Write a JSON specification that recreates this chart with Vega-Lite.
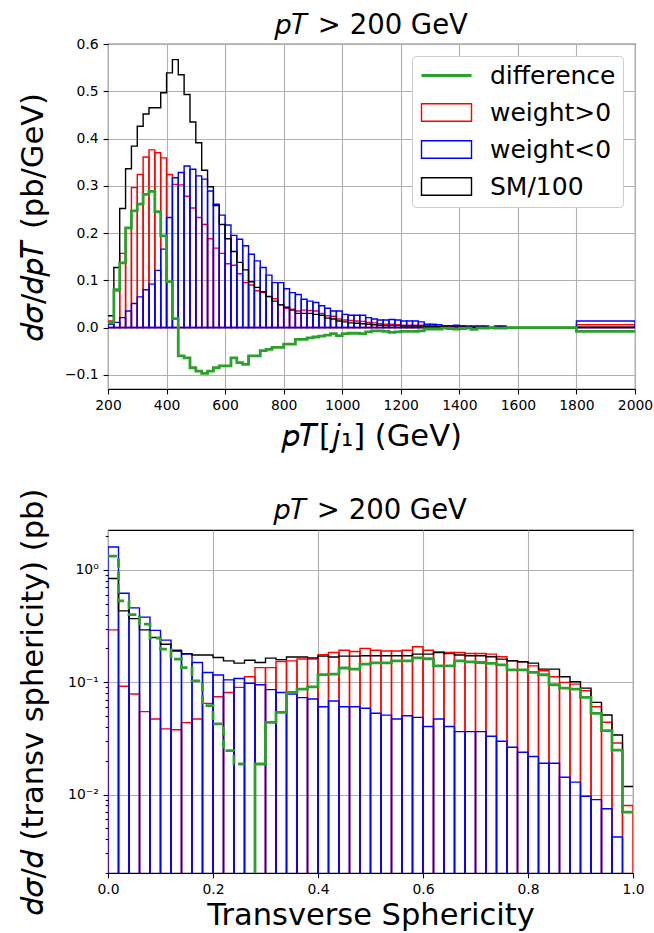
{
  "$schema": "https://vega.github.io/schema/vega-lite/v6.json",
  "padding": {"left": 17, "top": 10, "right": 5, "bottom": 2},
  "spacing": 141,
  "bounds": "flush",
  "resolve": {"scale": {"color": "independent"}, "legend": {"color": "independent"}},
  "config": {
    "font": "DejaVu Sans",
    "view": {"stroke": "black", "strokeWidth": 1.1},
    "axis": {
      "domain": false, "grid": true, "gridColor": "#b0b0b0", "gridWidth": 1.1,
      "tickColor": "black", "tickSize": 4.9, "tickWidth": 1.1, "labelPadding": 4.9,
      "labelFontSize": 13.9, "labelColor": "black", "labelFont": "DejaVu Sans",
      "titleFont": "DejaVu Sans", "titleFontSize": 30.5, "titleFontWeight": "normal", "titleColor": "black",
      "labelFlush": false, "labelOverlap": false
    },
    "title": {"font": "DejaVu Sans", "fontSize": 27.5, "fontWeight": "normal", "color": "black", "offset": -2}
  },
  "datasets": {
    "topBars": [
      {"x0":200,"x1":220,"pos":0.014,"neg":0.007},{"x0":220,"x1":240,"pos":0.078,"neg":0.011},
      {"x0":240,"x1":260,"pos":0.157,"neg":0.021},{"x0":260,"x1":280,"pos":0.211,"neg":0.035},
      {"x0":280,"x1":300,"pos":0.296,"neg":0.051},{"x0":300,"x1":320,"pos":0.324,"neg":0.065},
      {"x0":320,"x1":340,"pos":0.361,"neg":0.080},{"x0":340,"x1":360,"pos":0.376,"neg":0.092},
      {"x0":360,"x1":380,"pos":0.370,"neg":0.121},{"x0":380,"x1":400,"pos":0.359,"neg":0.166},
      {"x0":400,"x1":420,"pos":0.324,"neg":0.233},{"x0":420,"x1":440,"pos":0.303,"neg":0.317},
      {"x0":440,"x1":460,"pos":0.302,"neg":0.328},{"x0":460,"x1":480,"pos":0.278,"neg":0.342},
      {"x0":480,"x1":500,"pos":0.253,"neg":0.335},{"x0":500,"x1":520,"pos":0.233,"neg":0.321},
      {"x0":520,"x1":540,"pos":0.218,"neg":0.314},{"x0":540,"x1":560,"pos":0.188,"neg":0.289},
      {"x0":560,"x1":580,"pos":0.168,"neg":0.261},{"x0":580,"x1":600,"pos":0.157,"neg":0.238},
      {"x0":600,"x1":620,"pos":0.135,"neg":0.217},{"x0":620,"x1":640,"pos":0.132,"neg":0.195},
      {"x0":640,"x1":660,"pos":0.114,"neg":0.187},{"x0":660,"x1":680,"pos":0.095,"neg":0.173},
      {"x0":680,"x1":700,"pos":0.090,"neg":0.155},{"x0":700,"x1":720,"pos":0.078,"neg":0.141},
      {"x0":720,"x1":740,"pos":0.074,"neg":0.127},{"x0":740,"x1":760,"pos":0.065,"neg":0.111},
      {"x0":760,"x1":780,"pos":0.061,"neg":0.095},{"x0":780,"x1":800,"pos":0.048,"neg":0.095},
      {"x0":800,"x1":820,"pos":0.041,"neg":0.082},{"x0":820,"x1":840,"pos":0.039,"neg":0.074},
      {"x0":840,"x1":860,"pos":0.035,"neg":0.070},{"x0":860,"x1":880,"pos":0.037,"neg":0.060},
      {"x0":880,"x1":900,"pos":0.036,"neg":0.056},{"x0":900,"x1":920,"pos":0.035,"neg":0.053},
      {"x0":920,"x1":940,"pos":0.030,"neg":0.046},{"x0":940,"x1":960,"pos":0.025,"neg":0.041},
      {"x0":960,"x1":980,"pos":0.024,"neg":0.035},{"x0":980,"x1":1000,"pos":0.018,"neg":0.035},
      {"x0":1000,"x1":1020,"pos":0.016,"neg":0.028},{"x0":1020,"x1":1040,"pos":0.015,"neg":0.026},
      {"x0":1040,"x1":1060,"pos":0.014,"neg":0.026},{"x0":1060,"x1":1080,"pos":0.013,"neg":0.026},
      {"x0":1080,"x1":1100,"pos":0.011,"neg":0.021},{"x0":1100,"x1":1120,"pos":0.010,"neg":0.018},
      {"x0":1120,"x1":1140,"pos":0.008,"neg":0.016},{"x0":1140,"x1":1160,"pos":0.007,"neg":0.016},
      {"x0":1160,"x1":1180,"pos":0.007,"neg":0.017},{"x0":1180,"x1":1200,"pos":0.006,"neg":0.016},
      {"x0":1200,"x1":1220,"pos":0.005,"neg":0.014},{"x0":1220,"x1":1240,"pos":0.005,"neg":0.014},
      {"x0":1240,"x1":1260,"pos":0.005,"neg":0.014},{"x0":1260,"x1":1280,"pos":0.005,"neg":0.012},
      {"x0":1280,"x1":1300,"pos":0.004,"neg":0.007},{"x0":1300,"x1":1320,"pos":0.004,"neg":0.007},
      {"x0":1320,"x1":1340,"pos":0.003,"neg":0.006},{"x0":1340,"x1":1360,"pos":0.003,"neg":0.004},
      {"x0":1360,"x1":1380,"pos":0.002,"neg":0.004},{"x0":1380,"x1":1400,"pos":0.002,"neg":0.005},
      {"x0":1400,"x1":1420,"pos":0.002,"neg":0.004},{"x0":1420,"x1":1440,"pos":0.002,"neg":0.0035},
      {"x0":1440,"x1":1460,"pos":0.001,"neg":0.0035},{"x0":1460,"x1":1480,"pos":0.002,"neg":0.0035},
      {"x0":1480,"x1":1500,"pos":0.002,"neg":0.0035},{"x0":1520,"x1":1540,"pos":0.002,"neg":0.0035},
      {"x0":1540,"x1":1560,"pos":0.002,"neg":0.0035},{"x0":1800,"x1":2000,"pos":0.006,"neg":0.014}
    ],
    "topSteps": [
      {"x":200,"sm":0.025,"diff":0.010},{"x":220,"sm":0.127,"diff":0.080},{"x":240,"sm":0.252,"diff":0.137},
      {"x":260,"sm":0.336,"diff":0.211},{"x":280,"sm":0.384,"diff":0.247},{"x":300,"sm":0.426,"diff":0.261},
      {"x":320,"sm":0.452,"diff":0.282},{"x":340,"sm":0.465,"diff":0.288},{"x":360,"sm":0.465,"diff":0.245},
      {"x":380,"sm":0.497,"diff":0.194},{"x":400,"sm":0.539,"diff":0.097},{"x":420,"sm":0.567,"diff":0.019},
      {"x":440,"sm":0.535,"diff":-0.060},{"x":460,"sm":0.493,"diff":-0.064},{"x":480,"sm":0.435,"diff":-0.085},
      {"x":500,"sm":0.391,"diff":-0.092},{"x":520,"sm":0.333,"diff":-0.097},{"x":540,"sm":0.298,"diff":-0.092},
      {"x":560,"sm":0.258,"diff":-0.085},{"x":580,"sm":0.218,"diff":-0.081},{"x":600,"sm":0.188,"diff":-0.081},
      {"x":620,"sm":0.161,"diff":-0.064},{"x":640,"sm":0.138,"diff":-0.074},{"x":660,"sm":0.122,"diff":-0.078},
      {"x":680,"sm":0.097,"diff":-0.060},{"x":700,"sm":0.085,"diff":-0.060},{"x":720,"sm":0.076,"diff":-0.049},
      {"x":740,"sm":0.066,"diff":-0.046},{"x":760,"sm":0.056,"diff":-0.042},{"x":780,"sm":0.048,"diff":-0.042},
      {"x":800,"sm":0.043,"diff":-0.035},{"x":820,"sm":0.037,"diff":-0.035},{"x":840,"sm":0.030,"diff":-0.025},
      {"x":860,"sm":0.030,"diff":-0.025},{"x":880,"sm":0.030,"diff":-0.022},{"x":900,"sm":0.028,"diff":-0.020},
      {"x":920,"sm":0.026,"diff":-0.018},{"x":940,"sm":0.020,"diff":-0.016},{"x":960,"sm":0.018,"diff":-0.013},
      {"x":980,"sm":0.014,"diff":-0.017},{"x":1000,"sm":0.012,"diff":-0.013},{"x":1020,"sm":0.010,"diff":-0.012},
      {"x":1040,"sm":0.009,"diff":-0.012},{"x":1060,"sm":0.008,"diff":-0.013},{"x":1080,"sm":0.007,"diff":-0.009},
      {"x":1100,"sm":0.006,"diff":-0.007},{"x":1120,"sm":0.005,"diff":-0.007},{"x":1140,"sm":0.004,"diff":-0.008},
      {"x":1160,"sm":0.004,"diff":-0.010},{"x":1180,"sm":0.004,"diff":-0.009},{"x":1200,"sm":0.003,"diff":-0.008},
      {"x":1220,"sm":0.003,"diff":-0.008},{"x":1240,"sm":0.003,"diff":-0.008},{"x":1260,"sm":0.003,"diff":-0.007},
      {"x":1280,"sm":0.002,"diff":-0.003},{"x":1300,"sm":0.002,"diff":-0.003},{"x":1320,"sm":0.002,"diff":-0.003},
      {"x":1340,"sm":0.002,"diff":-0.001},{"x":1360,"sm":0.001,"diff":-0.002},{"x":1380,"sm":0.001,"diff":-0.003},
      {"x":1400,"sm":0.001,"diff":-0.002},{"x":1420,"sm":0.001,"diff":-0.001},{"x":1440,"sm":0.001,"diff":-0.004},
      {"x":1460,"sm":0.001,"diff":-0.001},{"x":1480,"sm":0.001,"diff":-0.001},{"x":1500,"sm":0.0,"diff":0.0},
      {"x":1520,"sm":0.001,"diff":-0.001},{"x":1540,"sm":0.001,"diff":-0.001},{"x":1560,"sm":0.0,"diff":0.0},
      {"x":1800,"sm":0.001,"diff":-0.008},{"x":2000,"sm":0.001,"diff":-0.008}
    ],
    "botBars": [
      {"x0":0.00,"x1":0.02,"pos":0.293,"neg":1.60},{"x0":0.02,"x1":0.04,"pos":0.092,"neg":0.62},
      {"x0":0.04,"x1":0.06,"pos":0.0785,"neg":0.46},{"x0":0.06,"x1":0.08,"pos":0.0547,"neg":0.38},
      {"x0":0.08,"x1":0.10,"pos":0.047,"neg":0.29},{"x0":0.10,"x1":0.12,"pos":0.0384,"neg":0.237},
      {"x0":0.12,"x1":0.14,"pos":0.0378,"neg":0.193},{"x0":0.14,"x1":0.16,"pos":0.0437,"neg":0.178},
      {"x0":0.16,"x1":0.18,"pos":0.047,"neg":0.150},{"x0":0.18,"x1":0.20,"pos":0.0648,"neg":0.122},
      {"x0":0.20,"x1":0.22,"pos":0.0743,"neg":0.116},{"x0":0.22,"x1":0.24,"pos":0.081,"neg":0.105},
      {"x0":0.24,"x1":0.26,"pos":0.090,"neg":0.108},{"x0":0.26,"x1":0.28,"pos":0.112,"neg":0.098},
      {"x0":0.28,"x1":0.30,"pos":0.135,"neg":0.095},{"x0":0.30,"x1":0.32,"pos":0.135,"neg":0.086},
      {"x0":0.32,"x1":0.34,"pos":0.153,"neg":0.081},{"x0":0.34,"x1":0.36,"pos":0.155,"neg":0.0785},
      {"x0":0.36,"x1":0.38,"pos":0.161,"neg":0.073},{"x0":0.38,"x1":0.40,"pos":0.161,"neg":0.071},
      {"x0":0.40,"x1":0.42,"pos":0.176,"neg":0.0605},{"x0":0.42,"x1":0.44,"pos":0.184,"neg":0.068},
      {"x0":0.44,"x1":0.46,"pos":0.193,"neg":0.0605},{"x0":0.46,"x1":0.48,"pos":0.188,"neg":0.0605},
      {"x0":0.48,"x1":0.50,"pos":0.200,"neg":0.0586},{"x0":0.50,"x1":0.52,"pos":0.193,"neg":0.0529},
      {"x0":0.52,"x1":0.54,"pos":0.190,"neg":0.051},{"x0":0.54,"x1":0.56,"pos":0.190,"neg":0.047},
      {"x0":0.56,"x1":0.58,"pos":0.193,"neg":0.0503},{"x0":0.58,"x1":0.60,"pos":0.207,"neg":0.0487},
      {"x0":0.60,"x1":0.62,"pos":0.193,"neg":0.0403},{"x0":0.62,"x1":0.64,"pos":0.186,"neg":0.047},
      {"x0":0.64,"x1":0.66,"pos":0.184,"neg":0.0403},{"x0":0.66,"x1":0.68,"pos":0.184,"neg":0.0363},
      {"x0":0.68,"x1":0.70,"pos":0.1804,"neg":0.0363},{"x0":0.70,"x1":0.72,"pos":0.1804,"neg":0.0363},
      {"x0":0.72,"x1":0.74,"pos":0.178,"neg":0.033},{"x0":0.74,"x1":0.76,"pos":0.1685,"neg":0.0298},
      {"x0":0.76,"x1":0.78,"pos":0.1553,"neg":0.0264},{"x0":0.78,"x1":0.80,"pos":0.1521,"neg":0.0238},
      {"x0":0.80,"x1":0.82,"pos":0.140,"neg":0.0218},{"x0":0.82,"x1":0.84,"pos":0.1265,"neg":0.019},
      {"x0":0.84,"x1":0.86,"pos":0.1119,"neg":0.019},{"x0":0.86,"x1":0.88,"pos":0.0997,"neg":0.01425},
      {"x0":0.88,"x1":0.90,"pos":0.0963,"neg":0.0129},{"x0":0.90,"x1":0.92,"pos":0.0840,"neg":0.00966},
      {"x0":0.92,"x1":0.94,"pos":0.0605,"neg":0.0090},{"x0":0.94,"x1":0.96,"pos":0.0440,"neg":0.00746},
      {"x0":0.96,"x1":0.98,"pos":0.0288,"neg":0.00418},{"x0":0.98,"x1":1.00,"pos":0.00798,"neg":0.0015}
    ],
    "botSteps": [
      {"x":0.00,"sm":0.84,"negdiff":1.33},{"x":0.02,"sm":0.432,"negdiff":0.53},{"x":0.04,"sm":0.369,"negdiff":0.40},
      {"x":0.06,"sm":0.293,"negdiff":0.33},{"x":0.08,"sm":0.250,"negdiff":0.247},{"x":0.10,"sm":0.218,"negdiff":0.197},
      {"x":0.12,"sm":0.190,"negdiff":0.161},{"x":0.14,"sm":0.180,"negdiff":0.135},{"x":0.16,"sm":0.175,"negdiff":0.103},
      {"x":0.18,"sm":0.175,"negdiff":0.062},{"x":0.20,"sm":0.166,"negdiff":0.0425},{"x":0.22,"sm":0.155,"negdiff":0.0246},
      {"x":0.24,"sm":0.148,"negdiff":0.0187},{"x":0.26,"sm":0.157,"diff":0.00001,"negdiff":0.0187},
      {"x":0.28,"sm":0.150,"diff":0.0187},{"x":0.30,"sm":0.164,"diff":0.044},{"x":0.32,"sm":0.159,"diff":0.054},
      {"x":0.34,"sm":0.168,"diff":0.081},{"x":0.36,"sm":0.168,"diff":0.087},{"x":0.38,"sm":0.165,"diff":0.091},
      {"x":0.40,"sm":0.171,"diff":0.117},{"x":0.42,"sm":0.168,"diff":0.118},{"x":0.44,"sm":0.171,"diff":0.134},
      {"x":0.46,"sm":0.171,"diff":0.131},{"x":0.48,"sm":0.172,"diff":0.145},{"x":0.50,"sm":0.172,"diff":0.149},
      {"x":0.52,"sm":0.172,"diff":0.149},{"x":0.54,"sm":0.172,"diff":0.155},{"x":0.56,"sm":0.172,"diff":0.155},
      {"x":0.58,"sm":0.178,"diff":0.165},{"x":0.60,"sm":0.178,"diff":0.162},{"x":0.62,"sm":0.184,"diff":0.140},
      {"x":0.64,"sm":0.180,"diff":0.140},{"x":0.66,"sm":0.175,"diff":0.155},{"x":0.68,"sm":0.172,"diff":0.152},
      {"x":0.70,"sm":0.172,"diff":0.150},{"x":0.72,"sm":0.1685,"diff":0.147},{"x":0.74,"sm":0.1607,"diff":0.143},
      {"x":0.76,"sm":0.1553,"diff":0.129},{"x":0.78,"sm":0.1521,"diff":0.129},{"x":0.80,"sm":0.148,"diff":0.1223},
      {"x":0.82,"sm":0.131,"diff":0.1166},{"x":0.84,"sm":0.131,"diff":0.0950},{"x":0.86,"sm":0.1119,"diff":0.0887},
      {"x":0.88,"sm":0.1010,"diff":0.0870},{"x":0.90,"sm":0.0887,"diff":0.0733},{"x":0.92,"sm":0.0662,"diff":0.0528},
      {"x":0.94,"sm":0.0511,"diff":0.0371},{"x":0.96,"sm":0.0339,"diff":0.0249},{"x":0.98,"sm":0.01178,"diff":0.00696},
      {"x":1.00,"sm":0.01178,"diff":0.00696}
    ]
  },
  "vconcat": [
    {
      "width": 527, "height": 345,
      "title": {"text": "𝑝𝑇 > 200 GeV"},
      "layer": [
        {
          "data": {"name": "topBars"},
          "mark": {"type": "rect", "filled": false, "strokeWidth": 1.4, "clip": true},
          "encoding": {
            "x": {"field": "x0", "type": "quantitative", "title": "𝑝𝑇[𝑗₁] (GeV)",
                  "scale": {"domain": [200, 2000], "nice": false, "zero": false},
                  "axis": {"values": [200,400,600,800,1000,1200,1400,1600,1800,2000], "format": "d", "titlePadding": 9}},
            "x2": {"field": "x1"},
            "y": {"field": "pos", "type": "quantitative", "title": "𝑑𝜎/𝑑𝑝𝑇 (pb/GeV)",
                  "scale": {"domain": [-0.13, 0.6], "nice": false, "zero": false},
                  "axis": {"values": [-0.1,0,0.1,0.2,0.3,0.4,0.5,0.6], "format": ".1f", "titlePadding": 16}},
            "y2": {"datum": 0},
            "color": {
              "datum": "weight>0", "type": "nominal",
              "scale": {"domain": ["difference", "weight>0", "weight<0", "SM/100"], "range": ["#2ca02c", "#ff0000", "#0000ff", "#000000"]},
              "legend": {
                "title": null, "orient": "top-right", "offset": 12,
                "labelFont": "DejaVu Sans", "labelFontSize": 25, "labelColor": "black",
                "symbolType": "M-2.5,-0.875H2.5V0.875H-2.5Z", "symbolSize": 400,
                "symbolOffset": 15, "labelOffset": 31, "symbolStrokeWidth": 1.4,
                "rowPadding": 11, "padding": 7,
                "strokeColor": "#cccccc", "cornerRadius": 4, "fillColor": "white",
                "encode": {
                  "symbols": {
                    "update": {
                      "shape": {"signal": "datum.value === 'difference' ? 'M-2.5,0H2.5' : 'M-2.5,-0.875H2.5V0.875H-2.5Z'"},
                      "strokeWidth": {"signal": "datum.value === 'difference' ? 2.8 : 1.4"},
                      "fill": {"value": "transparent"}
                    }
                  }
                }
              }
            }
          }
        },
        {
          "data": {"name": "topBars"},
          "mark": {"type": "rect", "filled": false, "strokeWidth": 1.4, "clip": true},
          "encoding": {
            "x": {"field": "x0", "type": "quantitative", "title": "𝑝𝑇[𝑗₁] (GeV)"},
            "x2": {"field": "x1"},
            "y": {"field": "neg", "type": "quantitative", "title": "𝑑𝜎/𝑑𝑝𝑇 (pb/GeV)"},
            "y2": {"datum": 0},
            "color": {"datum": "weight<0", "type": "nominal"}
          }
        },
        {
          "data": {"name": "topSteps"},
          "mark": {"type": "line", "interpolate": "step-after", "strokeWidth": 1.4, "clip": true},
          "encoding": {
            "x": {"field": "x", "type": "quantitative", "title": "𝑝𝑇[𝑗₁] (GeV)"},
            "y": {"field": "sm", "type": "quantitative", "title": "𝑑𝜎/𝑑𝑝𝑇 (pb/GeV)"},
            "color": {"datum": "SM/100", "type": "nominal"}
          }
        },
        {
          "data": {"name": "topSteps"},
          "mark": {"type": "line", "interpolate": "step-after", "strokeWidth": 2.8, "clip": true},
          "encoding": {
            "x": {"field": "x", "type": "quantitative", "title": "𝑝𝑇[𝑗₁] (GeV)"},
            "y": {"field": "diff", "type": "quantitative", "title": "𝑑𝜎/𝑑𝑝𝑇 (pb/GeV)"},
            "color": {"datum": "difference", "type": "nominal"}
          }
        }
      ]
    },
    {
      "width": 525, "height": 343,
      "title": {"text": "𝑝𝑇 > 200 GeV", "offset": -36},
      "layer": [
        {
          "data": {"name": "botBars"},
          "mark": {"type": "rect", "filled": false, "strokeWidth": 1.4, "clip": true, "stroke": "#ff0000"},
          "encoding": {
            "x": {"field": "x0", "type": "quantitative", "title": "Transverse Sphericity",
                  "scale": {"domain": [0, 1], "nice": false, "zero": false},
                  "axis": {"values": [0,0.2,0.4,0.6,0.8,1.0], "format": ".1f", "titlePadding": 4}},
            "x2": {"field": "x1"},
            "y": {"field": "pos", "type": "quantitative", "title": "𝑑𝜎/𝑑 (transv sphericity) (pb)",
                  "scale": {"type": "log", "domain": [0.002, 2.27], "nice": false},
                  "axis": {
                    "values": [0.002,0.003,0.004,0.005,0.006,0.007,0.008,0.009,0.01,0.02,0.03,0.04,0.05,0.06,0.07,0.08,0.09,0.1,0.2,0.3,0.4,0.5,0.6,0.7,0.8,0.9,1,2],
                    "labelExpr": "datum.value == 1 ? '10⁰' : datum.value == 0.1 ? '10⁻¹' : datum.value == 0.01 ? '10⁻²' : ''",
                    "tickSize": {"condition": {"test": "datum.value == 1 || datum.value == 0.1 || datum.value == 0.01", "value": 4.9}, "value": 2.8},
                    "gridOpacity": {"condition": {"test": "datum.value == 1 || datum.value == 0.1 || datum.value == 0.01", "value": 1}, "value": 0},
                    "titlePadding": 19
                  }},
            "y2": {"datum": 0.00001}
          }
        },
        {
          "data": {"name": "botBars"},
          "mark": {"type": "rect", "filled": false, "strokeWidth": 1.4, "clip": true, "stroke": "#0000ff"},
          "encoding": {
            "x": {"field": "x0", "type": "quantitative", "title": "Transverse Sphericity"},
            "x2": {"field": "x1"},
            "y": {"field": "neg", "type": "quantitative", "title": "𝑑𝜎/𝑑 (transv sphericity) (pb)"},
            "y2": {"datum": 0.00001}
          }
        },
        {
          "data": {"name": "botSteps"},
          "mark": {"type": "line", "interpolate": "step-after", "strokeWidth": 1.4, "clip": true, "stroke": "#000000"},
          "encoding": {
            "x": {"field": "x", "type": "quantitative", "title": "Transverse Sphericity"},
            "y": {"field": "sm", "type": "quantitative", "title": "𝑑𝜎/𝑑 (transv sphericity) (pb)"}
          }
        },
        {
          "data": {"name": "botSteps"},
          "mark": {"type": "line", "interpolate": "step-after", "strokeWidth": 2.8, "clip": true, "stroke": "#2ca02c"},
          "encoding": {
            "x": {"field": "x", "type": "quantitative", "title": "Transverse Sphericity"},
            "y": {"field": "diff", "type": "quantitative", "title": "𝑑𝜎/𝑑 (transv sphericity) (pb)"}
          }
        },
        {
          "data": {"name": "botSteps"},
          "mark": {"type": "line", "interpolate": "step-after", "strokeWidth": 2.8, "clip": true, "stroke": "#2ca02c", "strokeDash": [9, 4]},
          "encoding": {
            "x": {"field": "x", "type": "quantitative", "title": "Transverse Sphericity"},
            "y": {"field": "negdiff", "type": "quantitative", "title": "𝑑𝜎/𝑑 (transv sphericity) (pb)"}
          }
        }
      ]
    }
  ]
}
